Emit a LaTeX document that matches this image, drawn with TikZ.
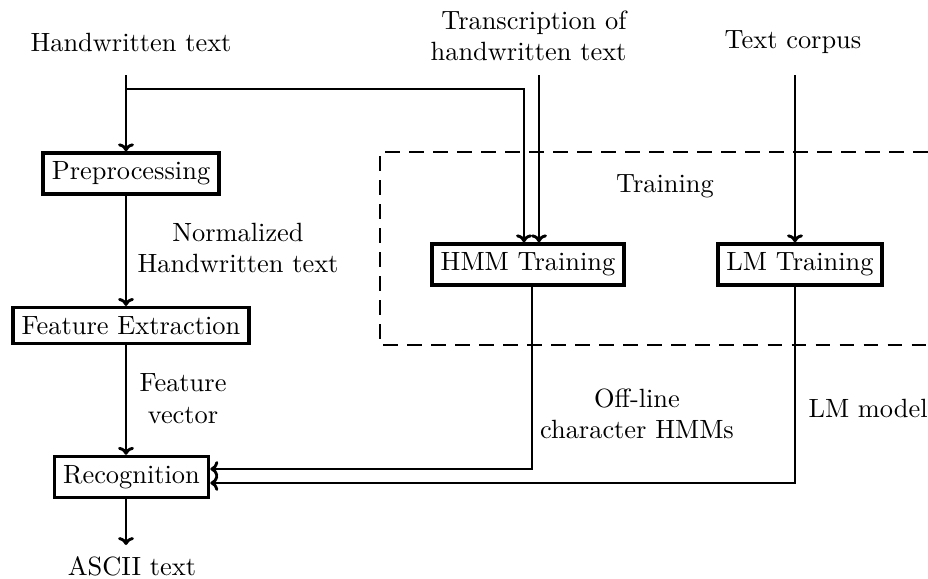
\documentclass[tikz,border=0pt]{standalone}
\usetikzlibrary{arrows.meta}
\begin{document}
\begin{tikzpicture}[x=0.379pt,y=-0.379pt,
  box/.style={draw,line width=1.35pt,inner sep=3.3pt},
  lbl/.style={align=center,inner sep=0pt},
  conn/.style={line width=1.1pt},
  arr/.style={conn,-{To[length=3pt,width=6pt]}},
  trainbox/.style={line width=1.1pt,dash pattern=on 5.5pt off 3.6pt}]
\useasboundingbox (0,0) rectangle (928,579);
% text sources
\node[lbl] (hw) at (131,42) {Handwritten text};
\node[lbl,align=right,anchor=east] (tr) at (627,36) {Transcription of\\handwritten text};
\node[lbl] (tc) at (793,42) {Text corpus};
% boxes
\node[box] (pre) at (131,173.5) {Preprocessing};
\node[box] (fe) at (131,325.5) {Feature Extraction};
\node[box] (rec) at (131.5,477) {Recognition};
\node[box] (hmm) at (528,264.5) {HMM Training};
\node[box] (lm) at (800,264.5) {LM Training};
% labels
\node[lbl] (norm) at (238,248) {Normalized\\Handwritten text};
\node[lbl] (fv) at (183,399) {Feature\\vector};
\node[lbl] (ascii) at (132,566) {ASCII text};
\node[lbl] (trn) at (665,186) {Training};
\node[lbl] (off) at (637,414) {Off-line\\character HMMs};
\node[lbl,anchor=west] (lmm) at (808,408) {LM model};
% training region
\draw[trainbox] (928,152) -- (380,152) -- (380,345) -- (928,345);
% coordinates
\coordinate (hwtop) at (126,75);
\coordinate (split) at (126,89);
\coordinate (splitturn) at (524,89);
\coordinate (trtop) at (539,75);
\coordinate (tctop) at (795,75);
\coordinate (asciitop) at (126,545);
\coordinate (hmmturn) at (532,469);
\coordinate (lmturn) at (795,483);
% connectors
\draw[arr] (hwtop) -- (hwtop |- pre.north);
\draw[arr] (split) -- (splitturn) -- (splitturn |- hmm.north);
\draw[arr] (trtop) -- (trtop |- hmm.north);
\draw[arr] (tctop) -- (tctop |- lm.north);
\draw[arr] (hwtop |- pre.south) -- (hwtop |- fe.north);
\draw[arr] (hwtop |- fe.south) -- (hwtop |- rec.north);
\draw[arr] (hwtop |- rec.south) -- (asciitop);
\draw[arr] (hmmturn |- hmm.south) -- (hmmturn) -- (hmmturn -| rec.east);
\draw[arr] (lmturn |- lm.south) -- (lmturn) -- (lmturn -| rec.east);
\end{tikzpicture}
\end{document}
